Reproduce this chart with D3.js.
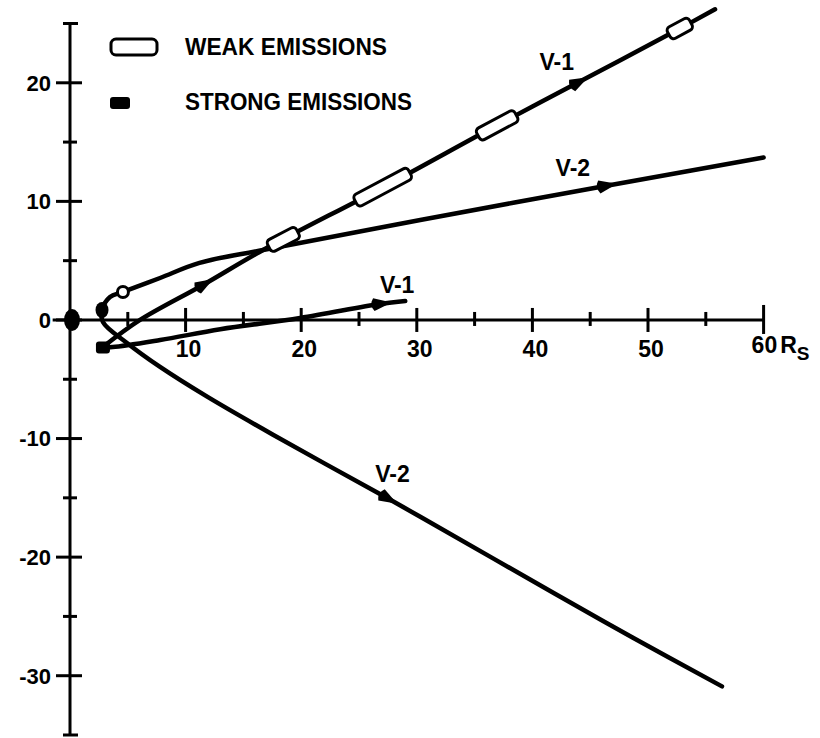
<!DOCTYPE html>
<html lang="en">
<head>
    <meta charset="UTF-8">
    <title>Voyager trajectories</title>
    <script src="https://cdnjs.cloudflare.com/ajax/libs/d3/7.8.5/d3.min.js"></script>
    <style>
        body { margin: 0; background: #fff; }
        text { font-family: "Liberation Sans", Arial, sans-serif; font-weight: bold; fill: #000; }
    </style>
</head>
<body>
    <div id="wrapper"></div>
    <script>
        // ---- data (Rs units) ----
        const v1Inbound = [[29.0, 1.6], [26.8, 1.35], [19.9, 0.17], [13.0, -0.78], [7.8, -1.69], [3.7, -2.28], [2.85, -2.28]]
        const v1Outbound = [[2.85, -2.28], [6.06, 0], [11.5, 2.95], [16.7, 5.9], [27.1, 11.2], [36.9, 16.4], [43.9, 20.0], [52.8, 24.6], [55.8, 26.2]]
        const v2Inbound = [[56.4, -30.9], [48.7, -26.8], [41.8, -23.0], [30.3, -16.6], [27.4, -15.0], [17.6, -9.7], [11.9, -6.49], [7.79, -3.96], [4.93, -1.94], [2.85, -0.17]]
        const v2Outbound = [[2.77, 0.84], [3.46, 1.94], [4.58, 2.36], [7.79, 3.54], [11.2, 4.81], [16.7, 5.9], [30.3, 8.43], [46.3, 11.3], [60.0, 13.7]]

        // weak emission intervals on the V-1 outbound leg (start, end in x)
        const weakV1 = [[17.2, 19.7], [24.7, 29.4], [35.3, 38.6], [51.8, 53.7]]
        const weakPoints = [[4.58, 2.36]]              // open circle on V-2
        const strongV1 = [[2.85, -2.28]]               // filled square on V-1
        const strongV2 = [[2.77, 0.84]]                // filled blob on V-2

        // direction arrows: track and x position
        const arrows = [
            { track: 'v1Out', x: 11.5 },
            { track: 'v1Out', x: 43.9 },
            { track: 'v1In', x: 26.8 },
            { track: 'v2Out', x: 46.3 },
            { track: 'v2In', x: 27.4 }
        ]
        const trackLabels = [
            { text: 'V-1', x: 42.1, y: 21.8 },
            { text: 'V-2', x: 43.5, y: 12.8 },
            { text: 'V-1', x: 28.3, y: 2.95 },
            { text: 'V-2', x: 27.9, y: -13.0 }
        ]

        const xMajor = [10, 20, 30, 40, 50]
        const xMinor = [5, 15, 25, 35, 45, 55]
        const yMajor = [20, 10, 0, -10, -20, -30]
        const yMinor = [15, 5, -5, -15, -25]

        // ---- dimensions ----
        const width = 820
        const height = 738

        const svg = d3.select('#wrapper')
            .append('svg')
            .attr('width', width)
            .attr('height', height)

        const xScale = d3.scaleLinear().domain([0, 60]).range([70, 763.6])
        const yScale = d3.scaleLinear().domain([-35, 25]).range([735, 23.5])

        const x0 = xScale(0)
        const y0 = yScale(0)

        // ---- axes ----
        const axes = svg.append('g')
            .attr('stroke', '#000')
            .attr('stroke-width', 3)

        axes.append('line')
            .attr('x1', x0).attr('x2', x0)
            .attr('y1', yScale(25)).attr('y2', yScale(-35))
        axes.append('line')
            .attr('x1', xScale(-1.5)).attr('x2', xScale(60))
            .attr('y1', y0).attr('y2', y0)

        // x ticks
        axes.selectAll('.xmaj').data(xMajor).join('line')
            .attr('x1', d => xScale(d)).attr('x2', d => xScale(d))
            .attr('y1', y0 - 12).attr('y2', y0 + 12)
        axes.selectAll('.xmin').data(xMinor).join('line')
            .attr('class', 'xmin')
            .attr('x1', d => xScale(d)).attr('x2', d => xScale(d))
            .attr('y1', y0 - 8).attr('y2', y0 + 6)
        axes.append('line')
            .attr('x1', xScale(60)).attr('x2', xScale(60))
            .attr('y1', y0 - 15).attr('y2', y0 + 14)

        // y ticks
        axes.selectAll('.ymaj').data(yMajor).join('line')
            .attr('class', 'ymaj')
            .attr('x1', x0 - 14).attr('x2', x0 + 12)
            .attr('y1', d => yScale(d)).attr('y2', d => yScale(d))
        axes.selectAll('.ymin').data(yMinor).join('line')
            .attr('class', 'ymin')
            .attr('x1', x0 - 7).attr('x2', x0 + 7)
            .attr('y1', d => yScale(d)).attr('y2', d => yScale(d))
        axes.selectAll('.yend').data([25, -35]).join('line')
            .attr('class', 'yend')
            .attr('x1', x0 - 7).attr('x2', x0 + 8)
            .attr('y1', d => yScale(d)).attr('y2', d => yScale(d))

        // tick labels
        svg.selectAll('.xlab').data(xMajor).join('text')
            .attr('class', 'xlab')
            .attr('x', d => xScale(d) + 3)
            .attr('y', y0 + 37)
            .attr('text-anchor', 'middle')
            .style('font-size', '23px')
            .text(d => d)
        const lab60 = svg.append('text')
            .attr('x', xScale(60) - 12)
            .attr('y', y0 + 33)
            .style('font-size', '23px')
        lab60.append('tspan').text('60')
        lab60.append('tspan').attr('dx', 3).text('R')
        lab60.append('tspan').attr('dy', 7).style('font-size', '19px').text('S')

        svg.selectAll('.ylab').data(yMajor).join('text')
            .attr('class', 'ylab')
            .attr('x', x0 - 19)
            .attr('y', d => yScale(d))
            .attr('dy', '0.36em')
            .attr('text-anchor', 'end')
            .style('font-size', '22px')
            .text(d => d)

        // ---- trajectories ----
        const line = d3.line()
            .x(d => xScale(d[0]))
            .y(d => yScale(d[1]))
            .curve(d3.curveCatmullRom.alpha(0.5))

        const tracks = svg.append('g')
            .attr('fill', 'none')
            .attr('stroke', '#000')
            .attr('stroke-width', 4.5)
            .attr('stroke-linecap', 'round')
            .attr('stroke-linejoin', 'round')

        tracks.append('path').attr('d', line(v1Inbound))
        tracks.append('path').attr('d', line(v1Outbound))
        tracks.append('path').attr('d', line(v2Inbound.concat(v2Outbound)))

        const trackData = { v1In: v1Inbound, v1Out: v1Outbound, v2In: v2Inbound, v2Out: v2Outbound }

        // linear lookup of y at a given x on a track
        function yAt(track, x) {
            const pts = track.slice().sort((a, b) => a[0] - b[0])
            for (let i = 0; i < pts.length - 1; i++) {
                if (x >= pts[i][0] && x <= pts[i + 1][0]) {
                    const t = (x - pts[i][0]) / (pts[i + 1][0] - pts[i][0])
                    return pts[i][1] + t * (pts[i + 1][1] - pts[i][1])
                }
            }
            return pts[pts.length - 1][1]
        }

        // weak emission boxes on V-1
        svg.selectAll('.weak').data(weakV1).join('rect')
            .attr('class', 'weak')
            .each(function (d) {
                const ax = xScale(d[0]), ay = yScale(yAt(v1Outbound, d[0]))
                const bx = xScale(d[1]), by = yScale(yAt(v1Outbound, d[1]))
                const len = Math.hypot(bx - ax, by - ay)
                const ang = Math.atan2(by - ay, bx - ax) * 180 / Math.PI
                d3.select(this)
                    .attr('x', -len / 2).attr('y', -6.5)
                    .attr('width', len).attr('height', 13)
                    .attr('rx', 4)
                    .attr('transform', `translate(${(ax + bx) / 2},${(ay + by) / 2}) rotate(${ang})`)
            })
            .attr('fill', '#fff')
            .attr('stroke', '#000')
            .attr('stroke-width', 3)

        svg.selectAll('.weakpt').data(weakPoints).join('circle')
            .attr('cx', d => xScale(d[0]))
            .attr('cy', d => yScale(d[1]))
            .attr('r', 5.5)
            .attr('fill', '#fff')
            .attr('stroke', '#000')
            .attr('stroke-width', 3)

        // strong emissions
        svg.selectAll('.strong1').data(strongV1).join('rect')
            .attr('x', d => xScale(d[0]) - 7)
            .attr('y', d => yScale(d[1]) - 5.5)
            .attr('width', 14).attr('height', 12)
            .attr('rx', 3)
            .attr('fill', '#000')
        svg.selectAll('.strong2').data(strongV2).join('ellipse')
            .attr('cx', d => xScale(d[0]))
            .attr('cy', d => yScale(d[1]))
            .attr('rx', 6.5).attr('ry', 8)
            .attr('fill', '#000')

        // Saturn at origin
        svg.append('ellipse')
            .attr('cx', x0 + 2).attr('cy', y0)
            .attr('rx', 8).attr('ry', 11)
            .attr('fill', '#000')

        // arrows pointing along +x of each track
        svg.selectAll('.arrow').data(arrows).join('path')
            .attr('class', 'arrow')
            .attr('d', 'M12,0 L-6,-6.5 Q-11,0 -6,6.5 Z')
            .attr('transform', d => {
                const tr = trackData[d.track]
                const ax = xScale(d.x), ay = yScale(yAt(tr, d.x))
                const bx = xScale(d.x + 1), by = yScale(yAt(tr, d.x + 1))
                const ang = Math.atan2(by - ay, bx - ax) * 180 / Math.PI
                return `translate(${ax},${ay}) rotate(${ang})`
            })
            .attr('fill', '#000')

        // track labels
        svg.selectAll('.tlab').data(trackLabels).join('text')
            .attr('class', 'tlab')
            .attr('x', d => xScale(d.x))
            .attr('y', d => yScale(d.y))
            .attr('dy', '0.36em')
            .attr('text-anchor', 'middle')
            .style('font-size', '23px')
            .text(d => d.text)

        // ---- legend ----
        const legend = svg.append('g')
        legend.append('rect')
            .attr('x', 111).attr('y', 39)
            .attr('width', 46).attr('height', 16)
            .attr('rx', 5)
            .attr('fill', '#fff')
            .attr('stroke', '#000')
            .attr('stroke-width', 3)
        legend.append('text')
            .attr('x', 185).attr('y', 55)
            .attr('textLength', 202)
            .attr('lengthAdjust', 'spacingAndGlyphs')
            .style('font-size', '24px')
            .text('WEAK EMISSIONS')
        legend.append('rect')
            .attr('x', 110).attr('y', 97)
            .attr('width', 20).attr('height', 12)
            .attr('rx', 3)
            .attr('fill', '#000')
        legend.append('text')
            .attr('x', 185).attr('y', 110)
            .attr('textLength', 227)
            .attr('lengthAdjust', 'spacingAndGlyphs')
            .style('font-size', '24px')
            .text('STRONG EMISSIONS')
    </script>
</body>
</html>
